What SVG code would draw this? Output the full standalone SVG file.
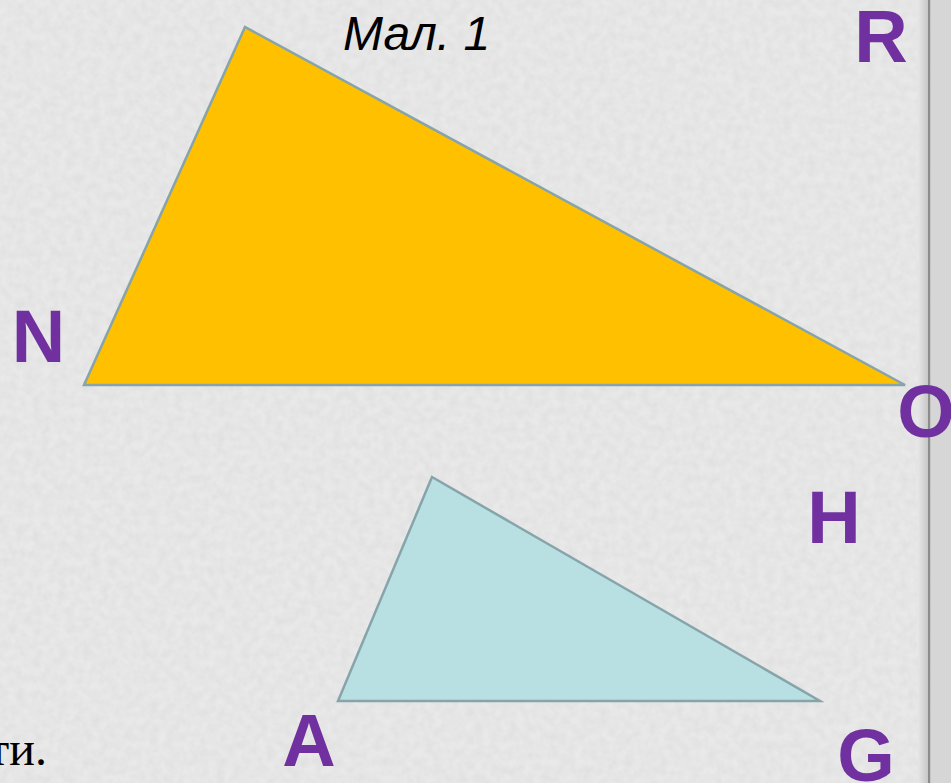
<svg xmlns="http://www.w3.org/2000/svg" width="951" height="783" viewBox="0 0 951 783">
<style>
.lbl{font-family:"Liberation Sans",Arial,sans-serif;font-weight:bold;font-size:74px;fill:#7030A0;text-anchor:middle}
.tri{stroke:#86a4aa;stroke-width:2.5;stroke-linejoin:miter}
</style>
<defs>
<filter id="tex" x="0" y="0" width="100%" height="100%">
<feTurbulence type="fractalNoise" baseFrequency="0.12" numOctaves="2" seed="3"/>
<feColorMatrix type="matrix" values="0 0 0 0 0.5  0 0 0 0 0.5  0 0 0 0 0.5  0 0 0 -1.2 0.9"/>
</filter>
<linearGradient id="bar" x1="0" x2="1" y1="0" y2="0">
<stop offset="0" stop-color="#e6e6e6"/>
<stop offset="1" stop-color="#c4c4c4"/>
</linearGradient>
</defs>
<rect width="951" height="783" fill="#e9e9e9"/>
<rect width="951" height="783" filter="url(#tex)" opacity="0.25"/>
<rect x="918" y="0" width="11" height="783" fill="url(#bar)"/>
<rect x="928" y="0" width="2.5" height="783" fill="#8c8c8c"/>
<rect x="930.5" y="0" width="21" height="783" fill="#d6d6d6"/>
<g id="triangle-NRO">
<polygon class="tri" points="245,27 84,385 905,385" fill="#FFC000"/>
</g>
<g id="triangle-AHG">
<polygon class="tri" points="432,477 338,701 820,701" fill="#B8DFE1"/>
</g>
<g id="connectors"></g>
<g id="labels">
<text class="lbl" x="881" y="62">R</text>
<text class="lbl" x="38.5" y="362">N</text>
<text class="lbl" x="926" y="437">O</text>
<text class="lbl" x="834" y="543">H</text>
<text class="lbl" x="309" y="766">A</text>
<text class="lbl" x="866" y="781">G</text>
</g>
<text x="343" y="50" font-family="'Liberation Sans',Arial,sans-serif" font-style="italic" font-size="48" fill="#000">Мал. 1</text>
<text x="47" y="765" font-family="'Liberation Serif','Times New Roman',serif" font-size="48" fill="#000" text-anchor="end">ти.</text>
</svg>
